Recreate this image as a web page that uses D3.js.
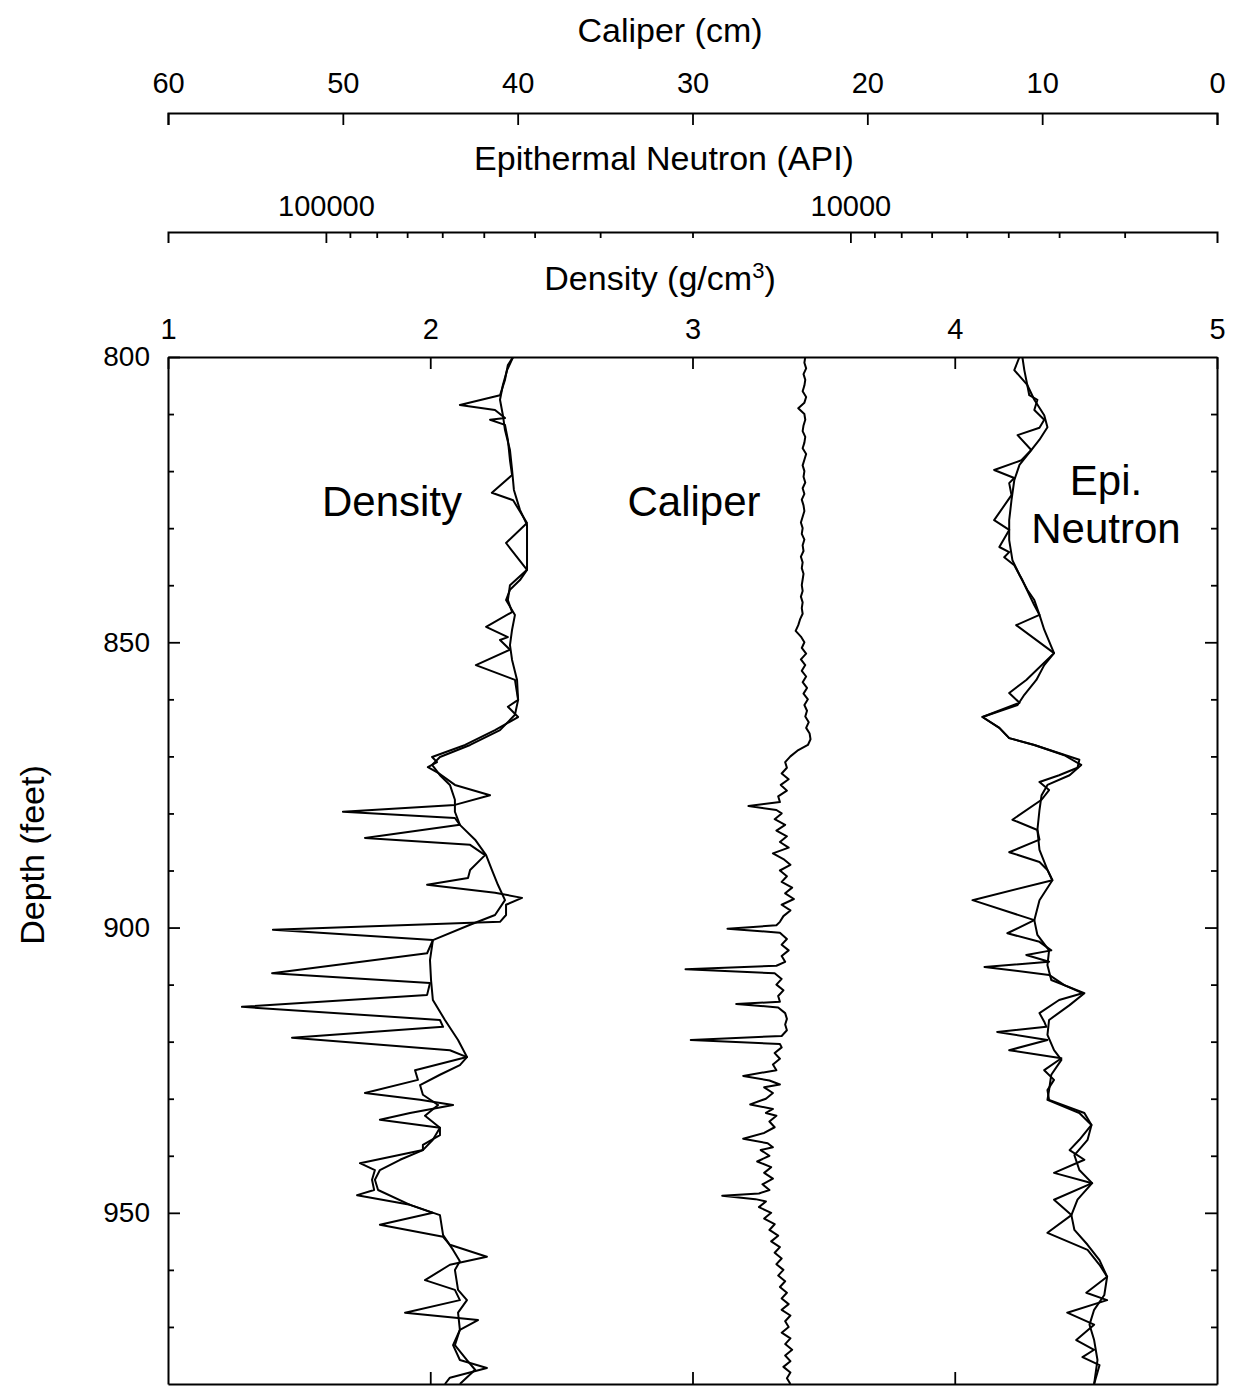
<!DOCTYPE html>
<html><head><meta charset="utf-8">
<script src="https://cdn.jsdelivr.net/npm/d3@7"></script>
<style>
body{margin:0;background:#fff}
text{font-family:"Liberation Sans",Arial,sans-serif;fill:#000}
</style>
</head><body>
<svg id="c" width="1235" height="1386"></svg>
<script>
// ---------- tick labels / categories ----------
const densityTicks = [1, 2, 3, 4, 5];
const caliperTicks = [60, 50, 40, 30, 20, 10, 0];
const epiMajorTicks = [100000, 10000];
const epiMinorTicks = [90000, 80000, 70000, 60000, 50000, 40000, 30000, 20000, 9000, 8000, 7000, 6000, 5000, 4000, 3000];
const depthMajorTicks = [800, 850, 900, 950];
const depthMinorTicks = [810, 820, 830, 840, 860, 870, 880, 890, 910, 920, 930, 940, 960, 970];

// ---------- series: [depth (ft), value] ----------
const densitySpiky = [[800.0,2.316],[801.4,2.296],[804.0,2.285],[806.7,2.266],[808.4,2.113],[809.3,2.247],[810.7,2.285],[811.0,2.228],[811.9,2.285],[814.5,2.296],[818.1,2.304],[820.7,2.312],[823.8,2.235],[825.1,2.316],[829.1,2.369],[832.6,2.289],[837.3,2.369],[840.0,2.304],[842.6,2.296],[844.7,2.312],[847.3,2.213],[849.1,2.296],[849.6,2.266],[851.3,2.304],[854.0,2.174],[856.6,2.323],[860.1,2.335],[861.3,2.296],[863.1,2.335],[865.4,2.247],[868.0,2.133],[870.1,2.007],[871.0,2.026],[871.9,1.991],[872.9,2.030],[875.0,2.094],[876.8,2.228],[878.5,2.094],[879.7,1.667],[880.8,2.094],[882.0,2.113],[884.3,1.751],[885.5,2.152],[887.3,2.209],[889.9,2.152],[891.3,2.144],[892.5,1.988],[893.9,2.247],[894.8,2.350],[896.0,2.289],[897.8,2.289],[899.0,2.266],[900.4,1.400],[902.2,2.010],[904.5,1.988],[908.0,1.397],[909.7,1.999],[911.8,1.988],[913.9,1.282],[916.2,2.037],[917.4,2.049],[919.3,1.473],[921.5,2.075],[922.7,2.140],[925.0,1.942],[926.7,1.953],[929.0,1.751],[930.2,1.961],[931.1,2.087],[932.5,1.923],[933.7,1.808],[935.1,2.037],[936.4,2.037],[938.1,1.972],[939.0,1.972],[941.3,1.732],[942.5,1.789],[944.2,1.778],[946.0,1.786],[946.9,1.721],[948.6,1.923],[950.0,2.010],[952.1,1.808],[954.2,2.049],[955.6,2.075],[957.7,2.216],[959.1,2.075],[961.8,1.980],[963.5,2.094],[965.3,2.113],[967.5,1.904],[968.8,2.182],[970.5,2.113],[973.2,2.087],[975.8,2.113],[977.2,2.216],[978.9,2.075],[980.0,2.056]];

const densitySmooth = [[800.0,2.316],[802.3,2.293],[804.9,2.277],[807.5,2.266],[810.2,2.277],[812.8,2.285],[816.3,2.304],[819.8,2.312],[823.3,2.319],[826.8,2.342],[829.4,2.369],[832.9,2.369],[837.3,2.369],[839.1,2.342],[840.8,2.304],[842.6,2.289],[845.2,2.323],[847.8,2.312],[850.5,2.304],[853.1,2.312],[856.6,2.331],[860.1,2.335],[862.7,2.323],[865.4,2.266],[868.0,2.152],[870.1,2.037],[871.5,2.007],[873.3,2.037],[875.0,2.075],[877.6,2.094],[879.7,2.094],[882.0,2.113],[884.6,2.171],[887.3,2.213],[889.9,2.235],[892.5,2.258],[895.2,2.285],[897.8,2.247],[899.5,2.152],[902.2,2.010],[905.7,1.999],[909.2,2.003],[912.7,2.010],[916.2,2.056],[919.7,2.106],[922.7,2.140],[924.1,2.113],[925.8,2.037],[927.6,1.961],[929.3,1.972],[931.1,2.030],[933.0,1.980],[935.1,2.037],[937.2,2.010],[939.0,1.972],[940.7,1.885],[942.5,1.808],[944.2,1.789],[946.0,1.801],[948.6,1.923],[950.4,2.037],[953.9,2.049],[956.5,2.087],[958.5,2.113],[960.0,2.094],[963.5,2.106],[965.3,2.140],[967.5,2.106],[970.5,2.113],[973.2,2.094],[975.8,2.140],[977.5,2.171],[980.0,2.113]];

const caliperCm = [[800,23.55],[801,23.6],[802,23.5],[803,23.65],[804,23.55],[805,23.6],[806,23.7],[807,23.5],[808,23.6],[809,23.95],[810,23.6],[811,23.55],[812,23.65],[813,23.7],[814,23.55],[815,23.6],[816,23.7],[817,23.5],[818,23.6],[819,23.7],[820,23.6],[821,23.65],[822,23.55],[823,23.7],[824,23.6],[825,23.75],[826,23.65],[827,23.6],[828,23.7],[829,23.8],[830,23.7],[831,23.75],[832,23.6],[833,23.7],[834,23.65],[835,23.8],[836,23.7],[837,23.75],[838,23.65],[839,23.7],[840,23.75],[841,23.7],[842,23.8],[843,23.7],[844,23.75],[845,23.7],[846,23.85],[847,23.95],[848,24.1],[849,23.8],[850,23.6],[851,23.75],[852,23.5],[853,23.8],[854,23.55],[855,23.75],[856,23.5],[857,23.7],[858,23.45],[859,23.65],[860,23.4],[861,23.6],[862,23.45],[863,23.55],[864,23.35],[865,23.5],[866,23.3],[867,23.25],[868,23.4],[869,24.0],[870,24.4],[871,24.7],[872,24.6],[873,24.9],[874,24.5],[875,24.95],[876,24.6],[877,25.1],[878,25.0],[878.7,26.8],[879.4,25.2],[880,24.9],[881,25.3],[882,24.7],[883,25.2],[884,24.6],[885,25.0],[886,24.5],[887,25.4],[888,24.8],[889,24.4],[890,25.0],[891,24.6],[892,24.9],[893,24.3],[894,24.7],[895,24.2],[896,24.9],[897,24.4],[898,24.8],[899,25.0],[899.6,25.2],[900.2,28.0],[900.9,25.0],[902,24.6],[903,24.9],[904,24.5],[905,24.9],[906,24.7],[906.7,25.2],[907.3,30.4],[908,25.3],[909,24.9],[910,25.2],[911,24.8],[912,25.1],[913,25.0],[913.4,27.5],[914,25.1],[915,24.7],[916,24.6],[917,24.7],[918,24.6],[919,24.9],[919.7,30.1],[920.4,25.0],[921,24.9],[922,25.3],[923,25.0],[924,25.4],[925,25.2],[926,27.1],[926.8,25.6],[927.5,25.0],[928,25.9],[929,25.4],[930,25.8],[931,26.7],[931.8,25.4],[932.5,25.8],[933,25.2],[934,25.6],[935,25.3],[936,25.9],[937,27.1],[937.8,25.7],[938.5,25.4],[939,26.1],[940,25.6],[941,26.3],[942,25.5],[943,25.9],[944,25.4],[945,26.0],[946,25.6],[946.6,26.2],[947,28.3],[947.6,26.4],[948,25.8],[949,26.2],[950,25.5],[951,25.9],[952,25.3],[953,25.6],[954,25.1],[955,25.5],[956,25.0],[957,25.3],[958,24.9],[959,25.2],[960,24.8],[961,25.1],[962,24.7],[963,25.0],[964,24.6],[965,24.9],[966,24.5],[967,24.9],[968,24.4],[969,24.7],[970,24.5],[971,24.9],[972,24.4],[973,24.7],[974,24.3],[975,24.7],[976,24.4],[977,24.8],[978,24.4],[979,24.6],[980,24.4]];

const epiSpiky = [[800.0,4760],[802.3,4870],[804.9,4600],[806.7,4560],[807.5,4400],[809.3,4460],[811.0,4270],[812.4,4360],[813.7,4800],[816.3,4520],[818.1,4720],[819.8,5320],[821.2,4870],[822.1,4980],[824.2,4930],[828.6,5320],[830.3,4980],[833.3,5200],[834.2,4980],[835.1,5090],[836.5,4870],[839.1,4700],[841.7,4560],[843.5,4460],[845.2,4360],[847.0,4830],[851.9,4090],[854.9,4420],[856.6,4620],[858.9,4980],[860.6,4760],[863.1,5600],[865.0,5200],[866.8,4980],[868.0,4460],[870.6,3660],[872.0,3690],[873.3,4000],[874.5,4360],[875.9,4180],[877.6,4320],[881.1,4910],[882.9,4400],[884.6,4360],[886.8,4980],[888.5,4360],[889.9,4210],[891.7,4120],[895.2,5850],[898.7,4460],[901.0,5020],[902.5,4360],[904.0,4140],[904.8,4620],[906.0,4180],[906.9,5550],[908.3,4180],[910.1,3910],[911.5,3610],[912.7,4000],[915.0,4360],[916.5,4270],[917.4,4230],[918.3,5250],[919.7,4210],[921.5,4980],[922.9,3960],[925.0,4270],[926.7,4090],[928.5,4210],[930.2,4180],[932.5,3580],[934.6,3470],[937.2,3660],[939.0,3820],[940.7,3580],[943.0,4090],[944.8,3460],[947.7,4090],[950.4,3790],[953.5,4210],[956.5,3530],[959.1,3350],[961.2,3240],[964.0,3550],[965.3,3240],[967.5,3860],[969.6,3430],[972.3,3710],[974.0,3430],[975.3,3610],[976.7,3350],[980.0,3430]];

const epiSmooth = [[800.0,4700],[802.3,4660],[804.9,4600],[807.5,4460],[810.2,4270],[812.3,4210],[814.5,4360],[816.3,4520],[818.9,4760],[821.6,4870],[825.1,4930],[828.6,4980],[832.1,4980],[835.6,4910],[838.2,4760],[840.8,4600],[842.6,4460],[845.2,4360],[847.8,4270],[851.9,4090],[854.0,4270],[856.6,4420],[859.2,4660],[861.0,4800],[863.1,5600],[865.0,5200],[866.8,4980],[868.0,4460],[869.8,3910],[871.5,3630],[873.3,3820],[875.0,4210],[876.8,4320],[879.4,4360],[882.9,4400],[886.4,4360],[889.9,4210],[891.7,4120],[895.2,4360],[898.7,4460],[901.3,4400],[904.0,4180],[906.6,4210],[909.2,4140],[911.5,3580],[913.6,3820],[916.2,4180],[918.8,4210],[921.5,4090],[923.2,3960],[925.8,4140],[928.5,4180],[930.2,4210],[932.5,3660],[934.6,3470],[937.2,3530],[939.9,3740],[942.5,3660],[944.8,3460],[947.7,3690],[950.4,3790],[953.0,3740],[955.6,3530],[958.3,3350],[961.2,3240],[964.4,3280],[967.0,3430],[969.6,3500],[972.3,3430],[975.8,3380],[980.0,3430]];

// ---------- layout ----------
const L = 168, R = 1217, T = 357, B = 1384;
const svg = d3.select("#c");

const xD = d3.scaleLinear().domain([1, 5]).range([L, R]);
const xC = d3.scaleLinear().domain([60, 0]).range([L, R]);
const xE = d3.scaleLog().domain([200000, 2000]).range([L, R]);
const yS = d3.scaleLinear().domain([800, 980]).range([T, B]);

function styleAxis(g, fs) {
  g.selectAll("path.domain").attr("stroke", "#000").attr("stroke-width", 2);
  g.selectAll(".tick line").attr("stroke", "#000").attr("stroke-width", 1.8);
  g.selectAll(".tick text").attr("font-family", "Liberation Sans, Arial, sans-serif")
    .attr("font-size", fs).attr("fill", "#000");
  g.attr("font-family", null).attr("font-size", null);
}

// Caliper axis (top)
const gC = svg.append("g").attr("transform", `translate(0,113)`)
  .call(d3.axisTop(xC).tickValues(caliperTicks).tickSizeInner(-12).tickSizeOuter(-12).tickPadding(20).tickFormat(d3.format("d")));
styleAxis(gC, 29);

// Epithermal neutron axis (log)
const gE = svg.append("g").attr("transform", `translate(0,232)`)
  .call(d3.axisTop(xE).tickValues(epiMajorTicks).tickSizeInner(-11).tickSizeOuter(-11).tickPadding(16).tickFormat(d3.format("d")));
styleAxis(gE, 29);
const gEm = svg.append("g").attr("transform", `translate(0,232)`)
  .call(d3.axisTop(xE).tickValues(epiMinorTicks).tickSizeInner(-6).tickSizeOuter(0).tickFormat(""));
gEm.select("path.domain").remove();
styleAxis(gEm, 29);

// Density axis (top of frame)
const gD = svg.append("g").attr("transform", `translate(0,${T})`)
  .call(d3.axisTop(xD).tickValues(densityTicks).tickSizeInner(-12).tickSizeOuter(0).tickPadding(18).tickFormat(d3.format("d")));
styleAxis(gD, 29);

// Bottom frame
const gB = svg.append("g").attr("transform", `translate(0,${B})`)
  .call(d3.axisBottom(xD).tickValues(densityTicks.slice(1, -1)).tickSizeInner(-12).tickSizeOuter(0).tickFormat(""));
styleAxis(gB, 29);

// Depth axis (left)
const gL = svg.append("g").attr("transform", `translate(${L},0)`)
  .call(d3.axisLeft(yS).tickValues(depthMajorTicks).tickSizeInner(-12).tickSizeOuter(0).tickPadding(18).tickFormat(d3.format("d")));
styleAxis(gL, 28);
const gLm = svg.append("g").attr("transform", `translate(${L},0)`)
  .call(d3.axisLeft(yS).tickValues(depthMinorTicks).tickSizeInner(-6).tickSizeOuter(0).tickFormat(""));
gLm.select("path.domain").remove();
styleAxis(gLm, 28);

// Right frame
const gR = svg.append("g").attr("transform", `translate(${R},0)`)
  .call(d3.axisRight(yS).tickValues(depthMajorTicks.slice(1)).tickSizeInner(-12).tickSizeOuter(0).tickFormat(""));
styleAxis(gR, 28);
const gRm = svg.append("g").attr("transform", `translate(${R},0)`)
  .call(d3.axisRight(yS).tickValues(depthMinorTicks).tickSizeInner(-6).tickSizeOuter(0).tickFormat(""));
gRm.select("path.domain").remove();
styleAxis(gRm, 28);

// ---------- titles ----------
const title = (txt, x, y, fs) => svg.append("text").attr("x", x).attr("y", y)
  .attr("text-anchor", "middle").attr("font-size", fs).text(txt);
title("Caliper (cm)", 670, 42, 34);
title("Epithermal Neutron (API)", 664, 170, 34);
const dt = svg.append("text").attr("x", 660).attr("y", 290).attr("text-anchor", "middle").attr("font-size", 34);
dt.append("tspan").text("Density (g/cm");
dt.append("tspan").attr("font-size", 22).attr("dy", -12).text("3");
dt.append("tspan").attr("dy", 12).text(")");

svg.append("text").attr("transform", "translate(44,855) rotate(-90)")
  .attr("text-anchor", "middle").attr("font-size", 34).text("Depth (feet)");

// ---------- curves ----------
const plot = svg.append("g");
plot.append("clipPath").attr("id", "clip").append("rect")
  .attr("x", L).attr("y", T).attr("width", R - L).attr("height", B - T);
const pg = plot.append("g").attr("clip-path", "url(#clip)");

const lineD = d3.line().x(d => xD(d[1])).y(d => yS(d[0]));
const lineC = d3.line().x(d => xC(d[1])).y(d => yS(d[0]));
const lineE = d3.line().x(d => xE(d[1])).y(d => yS(d[0]));

const drawLine = (data, gen) => pg.append("path").datum(data)
  .attr("d", gen).attr("fill", "none").attr("stroke", "#000")
  .attr("stroke-width", 2).attr("stroke-linejoin", "round");

drawLine(densitySmooth, lineD);
drawLine(densitySpiky, lineD);
drawLine(caliperCm, lineC);
drawLine(epiSmooth, lineE);
drawLine(epiSpiky, lineE);

// ---------- curve labels ----------
const lab = (txt, x, y) => svg.append("text").attr("x", x).attr("y", y)
  .attr("text-anchor", "middle").attr("font-size", 42).text(txt);
lab("Density", 392, 516);
lab("Caliper", 694, 516);
lab("Epi.", 1106, 495);
lab("Neutron", 1106, 543);
</script>
</body></html>
